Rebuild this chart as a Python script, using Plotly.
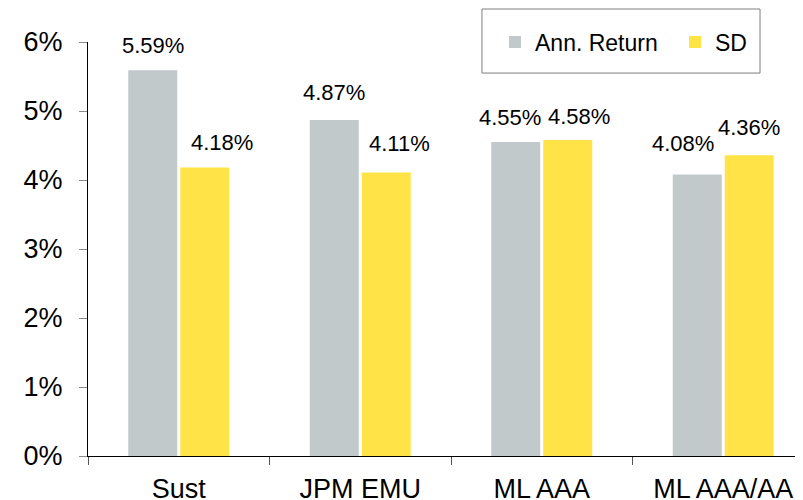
import plotly.graph_objects as go

categories = ["Sust", "JPM EMU", "ML AAA", "ML AAA/AA"]
ann_return = [5.59, 4.87, 4.55, 4.08]
sd = [4.18, 4.11, 4.58, 4.36]
y_ticks = [0, 1, 2, 3, 4, 5, 6]

# label nudges (pixels) to mimic the manually placed data labels
ret_dx = [0, 0, -6, -14]
ret_dy = [25, 27, 25, 31]
sd_dx = [17, 13, 11, 0]
sd_dy = [25, 29, 23, 28]

GREY = "#C1C9CB"
YELLOW = "#FFE347"
FONT = "Liberation Sans, Arial, sans-serif"

W, H = 795, 492  # page body adds an 8px offset

fig = go.Figure()
fig.add_trace(go.Bar(name="Ann. Return", x=categories, y=ann_return,
                     marker=dict(color=GREY, line=dict(width=0))))
fig.add_trace(go.Bar(name="SD", x=categories, y=sd,
                     marker=dict(color=YELLOW, line=dict(width=0))))

annotations = []
for i, c in enumerate(categories):
    annotations.append(dict(x=c, y=ann_return[i], xref="x", yref="y",
                            text=f"{ann_return[i]:.2f}%", showarrow=False,
                            xshift=-26 + ret_dx[i], yshift=ret_dy[i],
                            yanchor="middle", xanchor="center",
                            font=dict(size=22, color="#000", family=FONT)))
    annotations.append(dict(x=c, y=sd[i], xref="x", yref="y",
                            text=f"{sd[i]:.2f}%", showarrow=False,
                            xshift=26 + sd_dx[i], yshift=sd_dy[i],
                            yanchor="middle", xanchor="center",
                            font=dict(size=22, color="#000", family=FONT)))

fig.update_layout(
    width=W, height=H,
    margin=dict(l=80, r=0, t=34, b=44, pad=0, autoexpand=False),
    paper_bgcolor="white", plot_bgcolor="white",
    font=dict(family=FONT, color="#000"),
    barmode="group", bargap=0.427, bargroupgap=0.058,
    showlegend=True,
    legend=dict(orientation="h", xref="container", yref="container",
                x=0.6126, y=1 - 34 / H, xanchor="left", yanchor="middle",
                font=dict(size=23, color="#000", family=FONT),
                bgcolor="rgba(0,0,0,0)", borderwidth=0,
                entrywidth=135, entrywidthmode="pixels"),
    annotations=annotations,
    shapes=[dict(type="rect", xref="paper", yref="paper",
                 x0=0.551, x1=0.9399, y0=0.925, y1=1.0797,
                 line=dict(color="#7F7F7F", width=1), fillcolor="rgba(0,0,0,0)",
                 layer="below")],
)

fig.update_xaxes(
    type="category", range=[-0.5, -0.5 + 715 / 181.5],
    showline=True, linecolor="#000", linewidth=1.2,
    ticks="outside", tickson="boundaries", ticklen=8, tickcolor="#555", tickwidth=1,
    tickfont=dict(size=27, color="#000", family=FONT),
    ticklabelstandoff=8,
    showgrid=False, automargin=False, zeroline=False,
)
fig.update_yaxes(
    range=[0, 6], tickvals=y_ticks, ticktext=[f"{v}%" for v in y_ticks],
    showline=True, linecolor="#000", linewidth=1.2,
    ticks="outside", ticklen=8, tickcolor="#8C8C8C", tickwidth=1,
    tickfont=dict(size=27, color="#000", family=FONT),
    ticklabelstandoff=11,
    showgrid=False, zeroline=False, automargin=False,
)

fig.write_html("out.html")
